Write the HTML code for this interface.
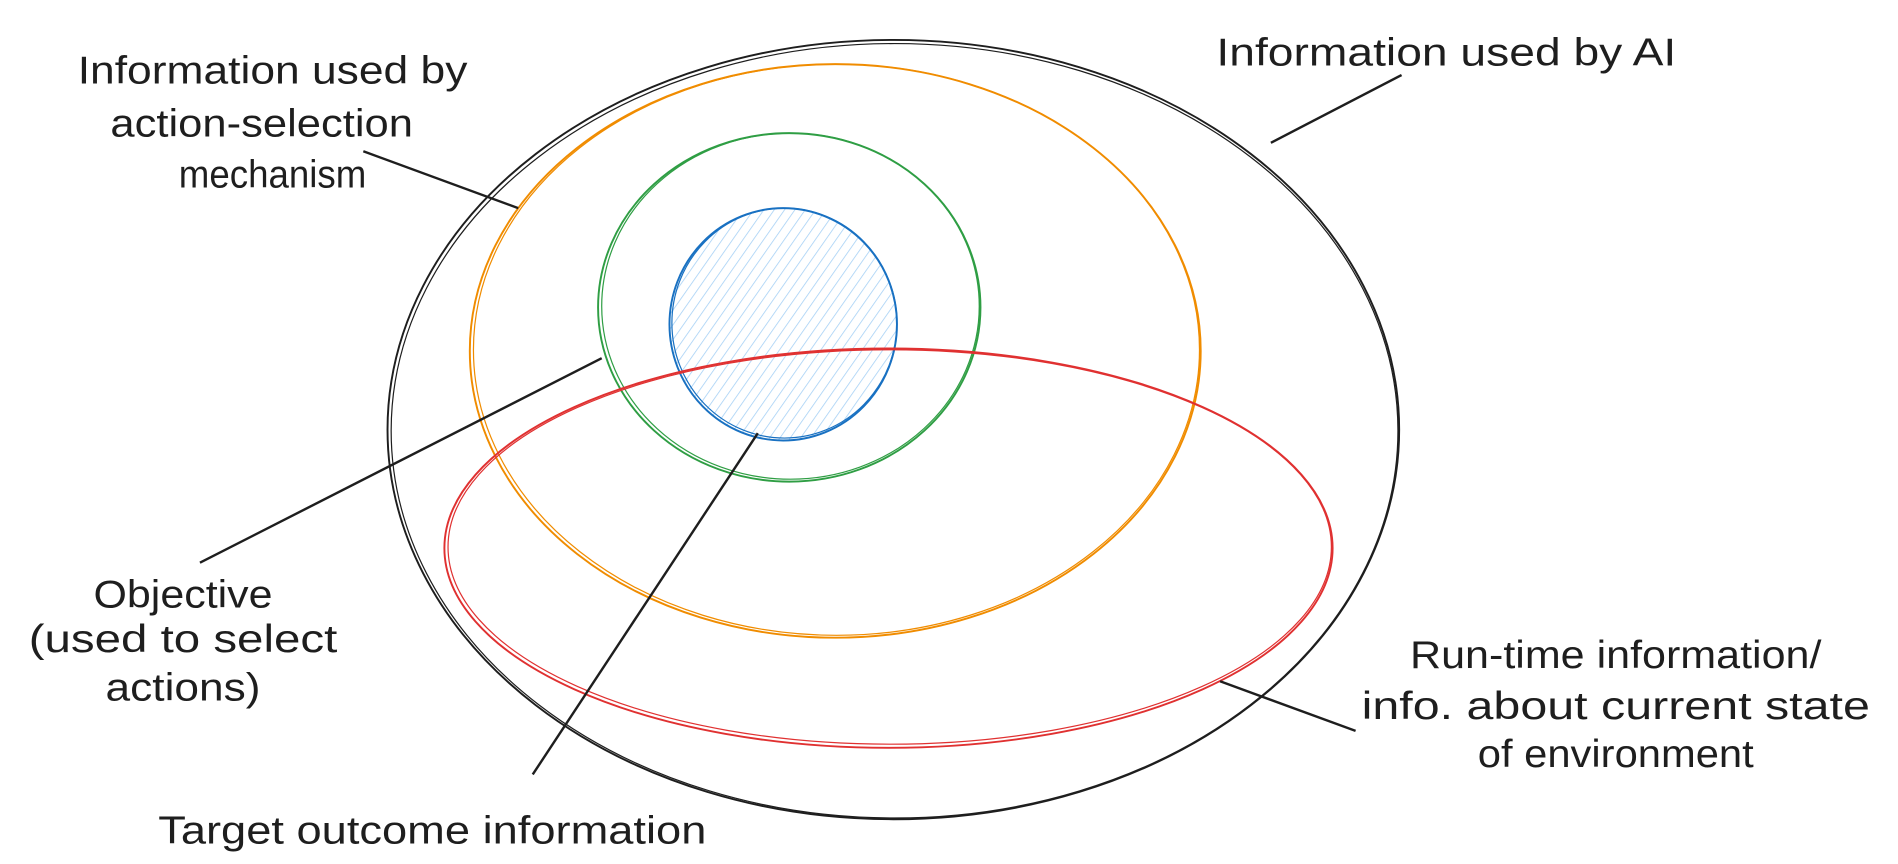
<!DOCTYPE html>
<html><head><meta charset="utf-8"><style>
html,body{margin:0;padding:0;background:#fff;}
svg{display:block}
text{font-family:"Liberation Sans Narrow","Liberation Sans",sans-serif;font-size:32px;fill:#1e1e1e;text-anchor:middle}
</style></head><body>
<svg width="1898" height="864" viewBox="0 0 1568 714" xmlns="http://www.w3.org/2000/svg">
<defs>
<pattern id="h" patternUnits="userSpaceOnUse" width="7" height="7" patternTransform="rotate(35)">
<line x1="0" y1="0" x2="0" y2="7" stroke="#a5d0f5" stroke-width="1.3"/>
</pattern>
</defs>
<g fill="none" stroke-width="1.6">
<ellipse cx="738" cy="355" rx="418" ry="322" stroke="#1e1e1e"/>
<ellipse cx="739" cy="356" rx="416" ry="320" stroke="#1e1e1e" stroke-width="1"/>
<ellipse cx="690" cy="290" rx="302" ry="237" stroke="#f08c00"/>
<ellipse cx="691" cy="289" rx="300" ry="236" stroke="#f08c00" stroke-width="1"/>
<ellipse cx="652" cy="254" rx="158" ry="144" stroke="#2f9e44"/>
<ellipse cx="653" cy="253" rx="156" ry="143" stroke="#2f9e44" stroke-width="1"/>
<ellipse cx="647" cy="268" rx="94" ry="96" stroke="#1971c2" fill="url(#h)"/>
<ellipse cx="648" cy="267" rx="93" ry="95" stroke="#1971c2" stroke-width="1"/>
<ellipse cx="734" cy="453" rx="367" ry="165" stroke="#e03131"/>
<ellipse cx="735" cy="452" rx="365" ry="163" stroke="#e03131" stroke-width="1"/>
<g stroke="#1e1e1e" stroke-width="2">
<line x1="1158" y1="62" x2="1050" y2="118"/>
<line x1="300" y1="125" x2="428" y2="172"/>
<line x1="497" y1="296" x2="165" y2="465"/>
<line x1="626" y1="358" x2="440" y2="640"/>
<line x1="1008" y1="563" x2="1120" y2="604"/>
</g>
</g>
<text x="1195" y="54" textLength="380" lengthAdjust="spacingAndGlyphs">Information used by AI</text>
<text x="225" y="69" textLength="322" lengthAdjust="spacingAndGlyphs">Information used by</text>
<text x="216" y="113" textLength="250" lengthAdjust="spacingAndGlyphs">action-selection</text>
<text x="225" y="155" textLength="155" lengthAdjust="spacingAndGlyphs">mechanism</text>
<text x="151" y="502" textLength="148" lengthAdjust="spacingAndGlyphs">Objective</text>
<text x="151" y="539" textLength="255" lengthAdjust="spacingAndGlyphs">(used to select</text>
<text x="151" y="579" textLength="128" lengthAdjust="spacingAndGlyphs">actions)</text>
<text x="357" y="697" textLength="453" lengthAdjust="spacingAndGlyphs">Target outcome information</text>
<text x="1335" y="552" textLength="340" lengthAdjust="spacingAndGlyphs">Run-time information/</text>
<text x="1335" y="594" textLength="420" lengthAdjust="spacingAndGlyphs">info. about current state</text>
<text x="1335" y="634" textLength="228" lengthAdjust="spacingAndGlyphs">of environment</text>
</svg>
</body></html>
